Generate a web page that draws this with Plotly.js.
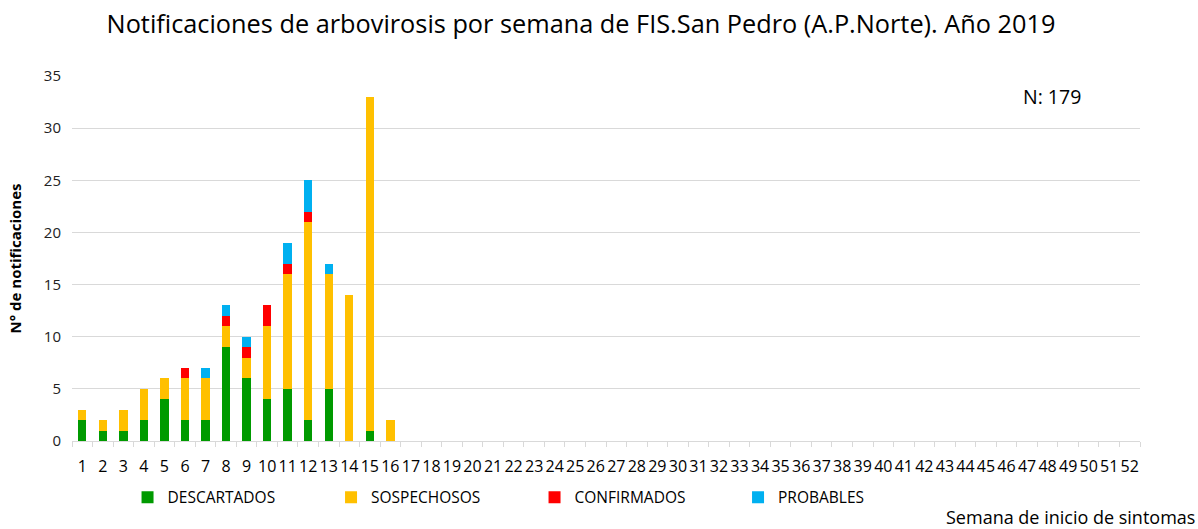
<!DOCTYPE html>
<html>
<head>
<meta charset="utf-8">
<script src="https://cdn.plot.ly/plotly-3.0.1.min.js"></script>
<style>html,body{margin:0;padding:0;background:#fff;}#chart{width:1198px;height:529px;}</style>
</head>
<body>
<div id="chart"></div>
<script>
const weeks = Array.from({length: 52}, (_, i) => String(i + 1));
const descartados  = [2,1,1,2,4,2,2,9,6,4,5,2,5,0,1,0];
const sospechosos  = [1,1,2,3,2,4,4,2,2,7,11,19,11,14,32,2];
const confirmados  = [0,0,0,0,0,1,0,1,1,2,1,1,0,0,0,0];
const probables    = [0,0,0,0,0,0,1,1,1,0,2,3,1,0,0,0];
const seriesNames  = ["DESCARTADOS","SOSPECHOSOS","CONFIRMADOS","PROBABLES"];
const seriesColors = ["#009A00","#FFC000","#FF0000","#00B0F0"];
const totalN = 179;

const font = "Open Sans, Liberation Sans, sans-serif";
const data = [descartados, sospechosos, confirmados, probables].map((vals, i) => ({
  type: "bar",
  name: seriesNames[i],
  x: weeks.slice(0, vals.length),
  y: vals,
  marker: {color: seriesColors[i]},
  hoverinfo: "x+y+name"
}));

const layout = {
  width: 1198, height: 529,
  margin: {l: 72, r: 58, t: 76, b: 88},
  paper_bgcolor: "#fff", plot_bgcolor: "#fff",
  barmode: "stack",
  bargap: 0.59,
  title: {text: "Notificaciones de arbovirosis por semana de FIS.San Pedro (A.P.Norte). Año 2019",
          font: {family: font, size: 25.3, color: "#000"}, x: 0.485, xanchor: "center", y: 0.955, yanchor: "middle"},
  xaxis: {
    type: "category", categoryarray: weeks, categoryorder: "array",
    range: [-0.5, 51.5],
    tickangle: 0,
    tickson: "boundaries", ticks: "outside", ticklen: 5, tickcolor: "#d9d9d9",
    ticklabelstandoff: 11,
    showline: true, linecolor: "#d9d9d9", linewidth: 1,
    showgrid: false,
    tickfont: {family: font, size: 16, color: "#000"},
    fixedrange: true
  },
  yaxis: {
    range: [0, 35], dtick: 5, tick0: 0,
    showgrid: true, gridcolor: "#d9d9d9", gridwidth: 1,
    zeroline: false, showline: false, ticks: "",
    ticklabelstandoff: 10,
    tickfont: {family: font, size: 15, color: "#222"},
    title: {text: "<b>N° de notificaciones</b>", font: {family: font, size: 15, color: "#000"}, standoff: 18},
    fixedrange: true
  },
  showlegend: true,
  legend: {
    orientation: "h", x: 0.052, xanchor: "left", y: -0.155, yanchor: "middle",
    entrywidth: 158.5, entrywidthmode: "pixels",
    font: {family: font, size: 15.5, color: "#000"},
    itemwidth: 30, traceorder: "normal"
  },
  annotations: [
    {text: "N: " + totalN, xref: "paper", yref: "paper", x: 0.918, y: 0.945,
     xanchor: "center", yanchor: "middle", showarrow: false,
     font: {family: font, size: 19.5, color: "#000"}},
    {text: "Semana de inicio de sintomas", xref: "paper", yref: "paper", x: 1.053, y: -0.208,
     xanchor: "right", yanchor: "middle", showarrow: false,
     font: {family: font, size: 18, color: "#000"}}
  ]
};

Plotly.newPlot("chart", data, layout, {displayModeBar: false, staticPlot: true});
</script>
</body>
</html>
